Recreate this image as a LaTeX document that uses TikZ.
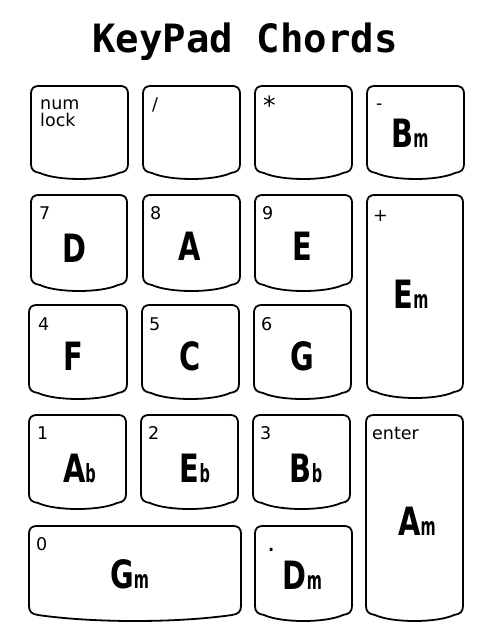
\documentclass[tikz,border=0pt]{standalone}
\usepackage{fontspec}
\setmainfont{DejaVu Sans}
\newfontfamily\ttlfont{DejaVu Sans Mono}
\newfontfamily\chordfont[FakeStretch=0.74]{DejaVu Sans}
\newfontfamily\sfxfont[FakeStretch=0.58]{DejaVu Sans}
\usetikzlibrary{positioning}

% suffix of a chord name (m, b)
\newcommand{\sfx}[1]{{\sfxfont\bfseries\fontsize{25}{25}\selectfont #1}}
% key outline: left, top, right, lowest point of the bottom edge
\newcommand{\keyshape}[4]{%
  \draw[keyline] (#1,#2+9) .. controls (#1,#2+2) and (#1+2,#2) .. (#1+9,#2)
    -- (#3-9,#2) .. controls (#3-2,#2) and (#3,#2+2) .. (#3,#2+9)
    -- (#3,#4-15) .. controls (#3,#4-9) and (#3-3,#4-7) .. (#3-9,#4-6)
    .. controls ({#3-(#3-#1-18)/3},#4+2) and ({#1+(#3-#1-18)/3},#4+2) .. (#1+9,#4-6)
    .. controls (#1+3,#4-7) and (#1,#4-9) .. (#1,#4-15) -- cycle;}

\begin{document}
\begin{tikzpicture}[
    x=1pt, y=-1pt,
    keyline/.style={draw=black, line width=1.8pt, line join=round},
    keylbl/.style={font=\fontsize{17.5}{17}\selectfont, anchor=base west,
                   inner sep=0pt, align=left},
    chord/.style={font=\chordfont\bfseries\fontsize{39}{39}\selectfont,
                  anchor=base, inner sep=0pt},
    ttl/.style={font=\ttlfont\bfseries\fontsize{39}{39}\selectfont,
                anchor=base, inner sep=0pt},
  ]
    \useasboundingbox (0,0) rectangle (495,640);
    \node[ttl] (title) at (245,52) {KeyPad Chords};

    % row 1
    \keyshape{31}{86}{128}{179}
    \node[keylbl] (numlbl) at (40,126) {num\\lock};
    \keyshape{143}{86}{240}{179}
    \node[keylbl] (divlbl) at (152,110) {/};
    \keyshape{255}{86}{352}{179}
    \node[keylbl, font=\fontsize{25}{25}\selectfont] (mullbl) at (263,114) {*};
    \keyshape{367}{86}{464}{179}
    \node[keylbl] (sublbl) at (376,109) {-};
    \node[chord] (bm) at (410,147) {B\sfx{m}};

    % row 2
    \keyshape{31}{195}{127}{291}
    \node[keylbl] (sevenlbl) at (39,219) {7};
    \node[chord] (d) at (74.5,262) {D};
    \keyshape{143}{195}{240}{291}
    \node[keylbl] (eightlbl) at (150,219) {8};
    \node[chord] (a) at (190,260) {A};
    \keyshape{255}{195}{352}{291}
    \node[keylbl] (ninelbl) at (262,219) {9};
    \node[chord] (e) at (302.5,260) {E};
    \keyshape{367}{195}{463}{398}
    \node[keylbl] (addlbl) at (373,221) {+};
    \node[chord] (em) at (411,308) {E\sfx{m}};

    % row 3
    \keyshape{29}{305}{127}{399}
    \node[keylbl] (fourlbl) at (38,330) {4};
    \node[chord] (f) at (73,370) {F};
    \keyshape{142}{305}{239}{399}
    \node[keylbl] (fivelbl) at (149,330) {5};
    \node[chord] (c) at (190,370) {C};
    \keyshape{254}{305}{351}{399}
    \node[keylbl] (sixlbl) at (261,330) {6};
    \node[chord] (g) at (302,370) {G};

    % row 4
    \keyshape{29}{415}{126}{509}
    \node[keylbl] (onelbl) at (37,439) {1};
    \node[chord] (ab) at (79.5,482) {A\sfx{b}};
    \keyshape{141}{415}{238}{509}
    \node[keylbl] (twolbl) at (148,439) {2};
    \node[chord] (eb) at (195,482) {E\sfx{b}};
    \keyshape{253}{415}{350}{509}
    \node[keylbl] (threelbl) at (260,439) {3};
    \node[chord] (bb) at (306,482) {B\sfx{b}};
    \keyshape{366}{415}{463}{621}
    \node[keylbl] (enterlbl) at (372,439) {enter};
    \node[chord] (am) at (417,535) {A\sfx{m}};

    % row 5
    \keyshape{29}{526}{241}{621}
    \node[keylbl] (zerolbl) at (36,550) {0};
    \node[chord] (gm) at (129.5,588) {G\sfx{m}};
    \keyshape{255}{526}{352}{621}
    \node[keylbl, font=\fontsize{26}{26}\selectfont] (dotlbl) at (267,551) {.};
    \node[chord] (dm) at (302.5,589) {D\sfx{m}};
  \end{tikzpicture}
\end{document}
